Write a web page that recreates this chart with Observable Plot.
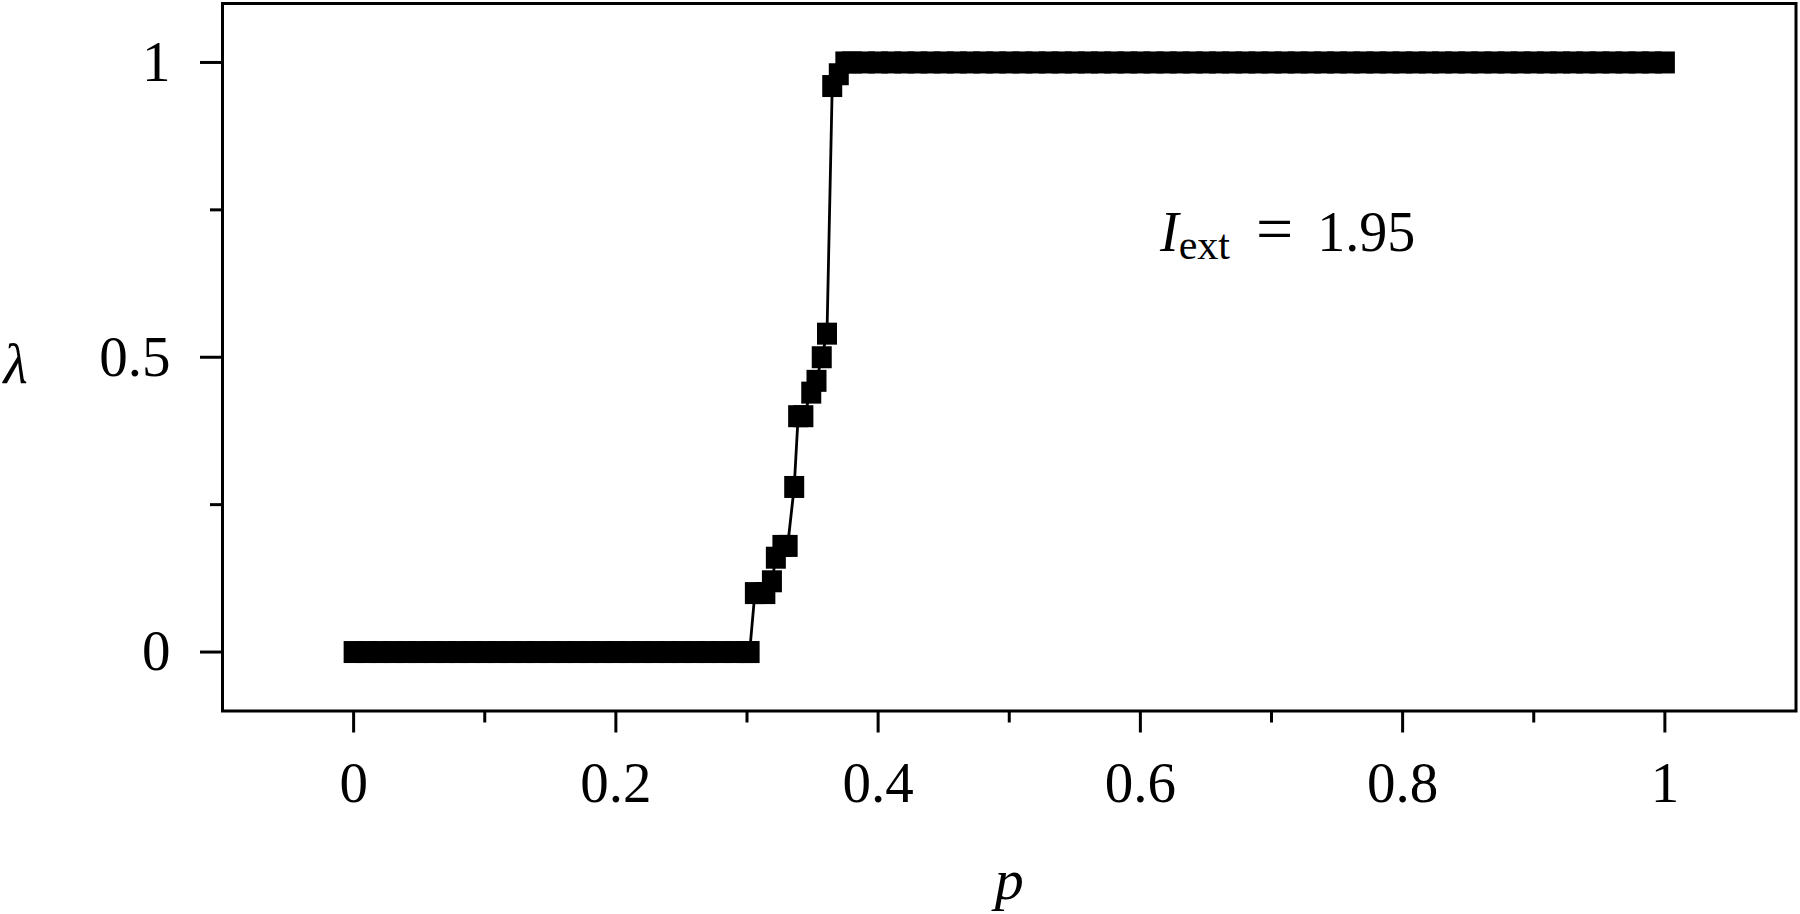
<!DOCTYPE html>
<html><head><meta charset="utf-8">
<script src="https://cdn.jsdelivr.net/npm/d3@7"></script>
<script src="https://cdn.jsdelivr.net/npm/@observablehq/plot@0.6"></script>
<style>
html,body{margin:0;padding:0;background:#fff;overflow:hidden;}
svg{display:block;}
</style>
</head><body><div id="chart"></div>
<script>
// ---- data ----
const pOff = [0.00,0.01,0.02,0.03,0.04,0.05,0.06,0.07,0.08,0.09,0.10,0.11,0.12,0.13,0.14,0.15,0.16,0.17,0.18,0.19,0.20,0.21,0.22,0.23,0.24,0.25,0.26,0.27,0.28,0.29,0.30,0.302];
const lambdaOff = 0;
const pTransition      = [0.306,0.314,0.319,0.322,0.327,0.331,0.336,0.339,0.343,0.349,0.353,0.357,0.361,0.365,0.370];
const lambdaTransition = [0.10, 0.10, 0.12, 0.16, 0.18, 0.18, 0.28, 0.40, 0.40, 0.44, 0.46, 0.50, 0.54, 0.96, 0.98];
const pOn = [0.375,0.38,0.39,0.40,0.41,0.42,0.43,0.44,0.45,0.46,0.47,0.48,0.49,0.50,0.51,0.52,0.53,0.54,0.55,0.56,0.57,0.58,0.59,0.60,0.61,0.62,0.63,0.64,0.65,0.66,0.67,0.68,0.69,0.70,0.71,0.72,0.73,0.74,0.75,0.76,0.77,0.78,0.79,0.80,0.81,0.82,0.83,0.84,0.85,0.86,0.87,0.88,0.89,0.90,0.91,0.92,0.93,0.94,0.95,0.96,0.97,0.98,0.99,1.00];
const lambdaOn = 1;

const xTicks = [0, 0.2, 0.4, 0.6, 0.8, 1];
const xTickLabels = ["0", "0.2", "0.4", "0.6", "0.8", "1"];
const xMinorTicks = [0.1, 0.3, 0.5, 0.7, 0.9];
const yTicks = [0, 0.5, 1];
const yTickLabels = ["0", "0.5", "1"];
const yMinorTicks = [0.25, 0.75];
const xDomain = [-0.1, 1.1];
const yDomain = [-0.1, 1.1];
const xLabel = "p";
const yLabel = "λ";
const annMain = "I", annSub = "ext", annEq = "=", annValue = "1.95";
const annPos = [{p: 0.615, lambda: 0.68}];

// ---- table ----
const table = [
  ...pOff.map(p => ({p, lambda: lambdaOff})),
  ...pTransition.map((p, i) => ({p, lambda: lambdaTransition[i]})),
  ...pOn.map(p => ({p, lambda: lambdaOn}))
];

const rectSymbol = {draw(ctx) { ctx.rect(-10, -11, 20, 22); }};
const FS = 57;
const annText = annMain + annSub + " " + annEq + " " + annValue;
const blank = () => "";
const xFmt = d => xTickLabels[xTicks.indexOf(d)];
const yFmt = d => yTickLabels[yTicks.indexOf(d)];

const chart = Plot.plot({
  width: 1800, height: 914,
  marginLeft: 222, marginRight: 4.5, marginTop: 3, marginBottom: 203.5,
  style: {fontFamily: "'Liberation Serif', serif", fontSize: FS + "px", color: "black", background: "white"},
  x: {domain: xDomain},
  y: {domain: yDomain},
  marks: [
    Plot.frame({stroke: "black", strokeWidth: 3}),
    Plot.axisY(yTicks, {tickSize: 22, tickPadding: 30, strokeWidth: 3, fontSize: FS, tickFormat: yFmt, label: null}),
    Plot.axisY(yMinorTicks, {tickSize: 12, strokeWidth: 3, tickFormat: blank, label: null}),
    Plot.axisX(xTicks, {tickSize: 22, tickPadding: 28.5, strokeWidth: 3, fontSize: FS, tickFormat: xFmt, label: null}),
    Plot.axisX(xMinorTicks, {tickSize: 12, strokeWidth: 3, tickFormat: blank, label: null}),
    Plot.line(table, {x: "p", y: "lambda", stroke: "black", strokeWidth: 2.8}),
    Plot.dot(table, {x: "p", y: "lambda", symbol: rectSymbol, fill: "black", stroke: null, r: 10}),
    Plot.text(annPos, {x: "p", y: "lambda", text: () => annText, textAnchor: "start", lineAnchor: "bottom", fontSize: 56, fill: "black"}),
    Plot.text([yLabel], {text: d => d, frameAnchor: "left", dx: -207, dy: 8, fontSize: 56, fontStyle: "italic", textAnchor: "middle", lineAnchor: "middle", fill: "black"}),
    Plot.text([xLabel], {text: d => d, frameAnchor: "bottom", dy: 188, fontSize: 58, fontStyle: "italic", textAnchor: "middle", lineAnchor: "bottom", fill: "black"})
  ]
});

// annotation with subscript
const ns = "http://www.w3.org/2000/svg";
const t = [...chart.querySelectorAll("text")].find(e => e.textContent === annText);
if (t) {
  t.textContent = "";
  const span = (txt, attrs) => { const s = document.createElementNS(ns, "tspan"); s.textContent = txt; for (const k in attrs) s.setAttribute(k, attrs[k]); return s; };
  t.append(
    span(annMain, {"font-style": "italic"}),
    span(annSub, {"font-size": "42", dy: "8"}),
    span(annEq, {dy: "-8", dx: "26", "font-size": "66"}),
    span(annValue, {dx: "24"})
  );
}
document.getElementById("chart").append(chart);
</script>
</body></html>
